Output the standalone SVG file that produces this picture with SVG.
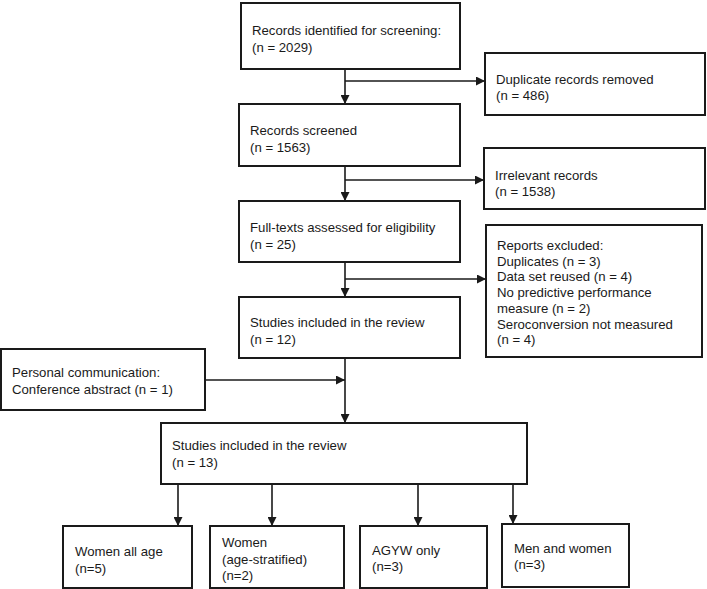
<svg xmlns="http://www.w3.org/2000/svg" width="707" height="589" viewBox="0 0 707 589">
<defs>
<marker id="arr" viewBox="0 0 10 10" refX="10" refY="5" markerWidth="10" markerHeight="9" markerUnits="userSpaceOnUse" orient="auto">
<path d="M0,0 L10,5 L0,10 Z" fill="#1a1a1a"/>
</marker>
<style>
.box{fill:#fff;stroke:#1a1a1a;stroke-width:2}
.lbl{font-family:"Liberation Sans",Arial,sans-serif;font-size:13.2px;fill:#1a1a1a}
.con{fill:none;stroke:#1a1a1a;stroke-width:1.6}
.arr{marker-end:url(#arr)}
</style>
</defs>
<rect width="707" height="589" fill="#fff"/>
<g id="connectors">
<line class="con arr" x1="345" y1="69" x2="345" y2="104"/>
<line class="con arr" x1="345" y1="81" x2="485" y2="81"/>
<line class="con arr" x1="345" y1="166" x2="345" y2="201"/>
<line class="con arr" x1="345" y1="180" x2="484" y2="180"/>
<line class="con arr" x1="345" y1="262" x2="345" y2="297"/>
<line class="con arr" x1="345" y1="279" x2="486" y2="279"/>
<line class="con arr" x1="345" y1="358" x2="345" y2="423"/>
<line class="con arr" x1="205" y1="380" x2="345" y2="380"/>
<line class="con arr" x1="178" y1="484" x2="178" y2="526"/>
<line class="con arr" x1="272" y1="484" x2="272" y2="526"/>
<line class="con arr" x1="418" y1="484" x2="418" y2="526"/>
<line class="con arr" x1="513" y1="484" x2="513" y2="524"/>
</g>
<g id="n_identified">
<rect class="box" x="241" y="3" width="219" height="66"/>
<text class="lbl" x="252" y="35">Records identified for screening:</text>
<text class="lbl" x="252" y="52">(n = 2029)</text>
</g>
<g id="n_duplicates">
<rect class="box" x="485" y="53" width="220" height="62"/>
<text class="lbl" x="496" y="84">Duplicate records removed</text>
<text class="lbl" x="496" y="100">(n = 486)</text>
</g>
<g id="n_screened">
<rect class="box" x="239" y="104" width="221" height="62"/>
<text class="lbl" x="250" y="135">Records screened</text>
<text class="lbl" x="250" y="152">(n = 1563)</text>
</g>
<g id="n_irrelevant">
<rect class="box" x="484" y="148" width="221" height="61"/>
<text class="lbl" x="495" y="180">Irrelevant records</text>
<text class="lbl" x="495" y="196">(n = 1538)</text>
</g>
<g id="n_fulltext">
<rect class="box" x="239" y="201" width="221" height="61"/>
<text class="lbl" x="250" y="232">Full-texts assessed for eligibility</text>
<text class="lbl" x="250" y="249">(n = 25)</text>
</g>
<g id="n_excluded">
<rect class="box" x="486" y="225" width="216" height="132"/>
<text class="lbl" x="497" y="250">Reports excluded:</text>
<text class="lbl" x="497" y="266">Duplicates (n = 3)</text>
<text class="lbl" x="497" y="281">Data set reused (n = 4)</text>
<text class="lbl" x="497" y="297">No predictive performance</text>
<text class="lbl" x="497" y="313">measure (n = 2)</text>
<text class="lbl" x="497" y="329">Seroconversion not measured</text>
<text class="lbl" x="497" y="344">(n = 4)</text>
</g>
<g id="n_included12">
<rect class="box" x="239" y="297" width="221" height="61"/>
<text class="lbl" x="250" y="327">Studies included in the review</text>
<text class="lbl" x="250" y="344">(n = 12)</text>
</g>
<g id="n_personal">
<rect class="box" x="1" y="349" width="204" height="61"/>
<text class="lbl" x="12" y="377">Personal communication:</text>
<text class="lbl" x="12" y="394">Conference abstract (n = 1)</text>
</g>
<g id="n_included13">
<rect class="box" x="161" y="423" width="366" height="61"/>
<text class="lbl" x="172" y="450">Studies included in the review</text>
<text class="lbl" x="172" y="467">(n = 13)</text>
</g>
<g id="n_women_all">
<rect class="box" x="63" y="526" width="129" height="62"/>
<text class="lbl" x="75" y="556">Women all age</text>
<text class="lbl" x="75" y="573">(n=5)</text>
</g>
<g id="n_women_strat">
<rect class="box" x="210" y="526" width="134" height="62"/>
<text class="lbl" x="222" y="547">Women</text>
<text class="lbl" x="222" y="564">(age-stratified)</text>
<text class="lbl" x="222" y="580">(n=2)</text>
</g>
<g id="n_agyw">
<rect class="box" x="360" y="526" width="127" height="62"/>
<text class="lbl" x="372" y="555">AGYW only</text>
<text class="lbl" x="372" y="571">(n=3)</text>
</g>
<g id="n_men_women">
<rect class="box" x="502" y="524" width="127" height="63"/>
<text class="lbl" x="514" y="553">Men and women</text>
<text class="lbl" x="514" y="569">(n=3)</text>
</g>
</svg>
